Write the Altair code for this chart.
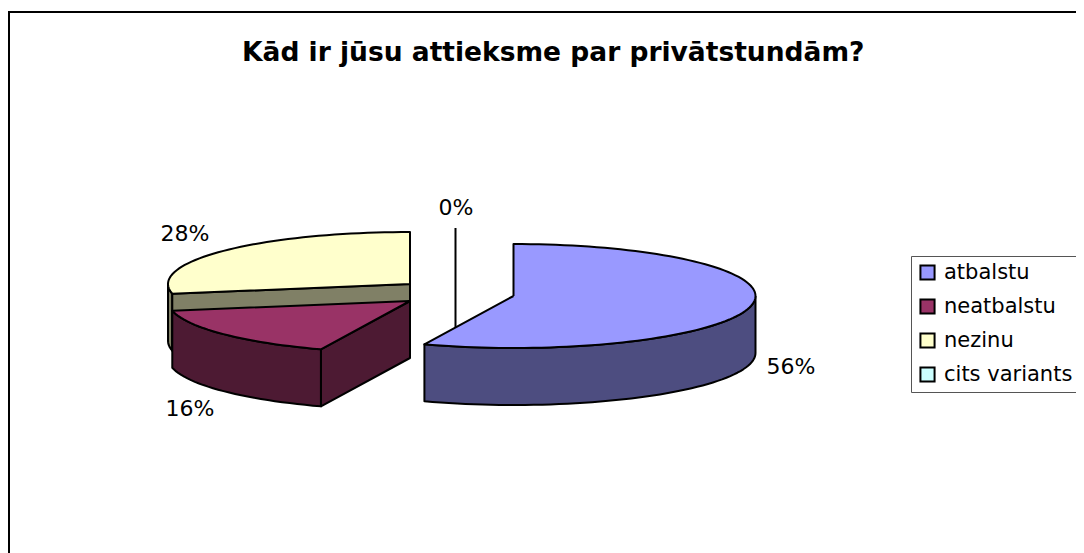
import math
import altair as alt
import pandas as pd

# ---- values
categories = ["atbalstu", "neatbalstu", "nezinu", "cits variants"]
shares = [56, 16, 28, 0]
top_colors = ["#9999FF", "#993366", "#FFFFCC", "#CCFFFF"]
side_colors = ["#4D4D80", "#4D1A33", "#808066", "#668080"]
title_text = "Kād ir jūsu attieksme par privātstundām?"

# ---- layout of the exploded tilted pie (page pixels)
W, H = 1068, 545
OX, OY = 8, 8
RX, RY, DEPTH = 242, 52, 57
centers = {"atbalstu": (513.5, 296), "neatbalstu": (410, 301), "nezinu": (410, 284), "cits variants": (455.5, 280)}
label_pos = {"atbalstu": (791, 367), "neatbalstu": (190, 409), "nezinu": (185, 234), "cits variants": (456, 208)}

x_scale = alt.Scale(domain=[0, W], range=[0, W], nice=False, zero=False)
y_scale = alt.Scale(domain=[0, H], range=[0, H], nice=False, zero=False)


def pt(c, deg, dz=0):
    a = math.radians(deg)
    return (c[0] + RX * math.sin(a), c[1] - RY * math.cos(a) + dz)


def arc(c, a0, a1, dz=0):
    n = max(2, int(abs(a1 - a0) / 2) + 1)
    return [pt(c, a0 + (a1 - a0) * i / (n - 1), dz) for i in range(n)]


def face(points, fill, sw=2):
    pts = points + [points[0]]
    df = pd.DataFrame({"x": [p[0] - OX for p in pts], "y": [p[1] - OY for p in pts], "o": range(len(pts))})
    return alt.Chart(df).mark_line(fill=fill, stroke="black", strokeWidth=sw, strokeJoin="round", clip=False).encode(
        x=alt.X("x:Q", scale=x_scale, axis=None),
        y=alt.Y("y:Q", scale=y_scale, axis=None),
        order="o:Q",
    )


# start / end angle of each slice from the shares
angles = {}
acc = 0
for name, s in zip(categories, shares):
    angles[name] = (acc * 3.6, (acc + s) * 3.6)
    acc += s
top = dict(zip(categories, top_colors))
side = dict(zip(categories, side_colors))

layers = []

# cits variants (0 %) : zero-width slice, seen as a vertical line
c = centers["cits variants"]
layers.append(face([pt(c, 360), c, (c[0], c[1] + DEPTH)], top["cits variants"]))

# nezinu
c = centers["nezinu"]
a0, a1 = angles["nezinu"]
layers.append(face(arc(c, a0, 270) + arc(c, 270, a0, DEPTH)[0:], side["nezinu"]))
layers.append(face([c, pt(c, a0), pt(c, a0, DEPTH), (c[0], c[1] + DEPTH)], side["nezinu"]))
layers.append(face([c] + arc(c, a0, a1), top["nezinu"]))

# neatbalstu
c = centers["neatbalstu"]
a0, a1 = angles["neatbalstu"]
layers.append(face([c, pt(c, a0), pt(c, a0, DEPTH), (c[0], c[1] + DEPTH)], side["neatbalstu"]))
layers.append(face(arc(c, a0, a1) + arc(c, a1, a0, DEPTH), side["neatbalstu"]))
layers.append(face([c] + arc(c, a0, a1), top["neatbalstu"]))

# atbalstu
c = centers["atbalstu"]
a0, a1 = angles["atbalstu"]
layers.append(face(arc(c, 90, a1) + arc(c, a1, 90, DEPTH), side["atbalstu"]))
layers.append(face([c] + arc(c, a0, a1), top["atbalstu"]))

# frame
frame_df = pd.DataFrame({"x": [W + 5, 1, 1], "y": [4, 4, H + 5], "o": [0, 1, 2]})
layers.append(alt.Chart(frame_df).mark_line(stroke="black", strokeWidth=2, clip=False).encode(
    x=alt.X("x:Q", scale=x_scale, axis=None), y=alt.Y("y:Q", scale=y_scale, axis=None), order="o:Q"))

# percent labels
lab = pd.DataFrame({
    "x": [label_pos[n][0] - OX for n in categories],
    "y": [label_pos[n][1] - OY for n in categories],
    "t": [f"{s}%" for s in shares],
})
layers.append(alt.Chart(lab).mark_text(font="DejaVu Sans", fontSize=22, color="black", align="center", baseline="middle").encode(
    x=alt.X("x:Q", scale=x_scale, axis=None), y=alt.Y("y:Q", scale=y_scale, axis=None), text="t:N"))

# legend carrier
leg = pd.DataFrame({"name": categories})
layers.append(alt.Chart(leg).mark_square(size=0, opacity=1).encode(
    x=alt.value(-50), y=alt.value(-50),
    color=alt.Color("name:N", scale=alt.Scale(domain=categories, range=top_colors), legend=alt.Legend(
        title=None, orient="none", legendX=903, legendY=248, padding=6,
        strokeColor="#555555", fillColor="white", symbolType="square", symbolSize=200,
        symbolStrokeColor="black", symbolStrokeWidth=2, symbolOpacity=1, labelFont="DejaVu Sans",
        labelFontSize=21, labelColor="black", labelOffset=6, rowPadding=11, labelLimit=200,
    )),
))

chart = alt.layer(*layers).properties(
    width=W, height=H, padding=0, autosize=alt.AutoSizeParams(type="none"), background="white",
    title=alt.TitleParams(title_text, font="DejaVu Sans", fontSize=26.5, fontWeight="bold", color="black",
                          anchor="start", dx=284, offset=-108),
).configure_view(stroke=None)

chart.save("out.html", embed_options={"renderer": "svg", "actions": False})
